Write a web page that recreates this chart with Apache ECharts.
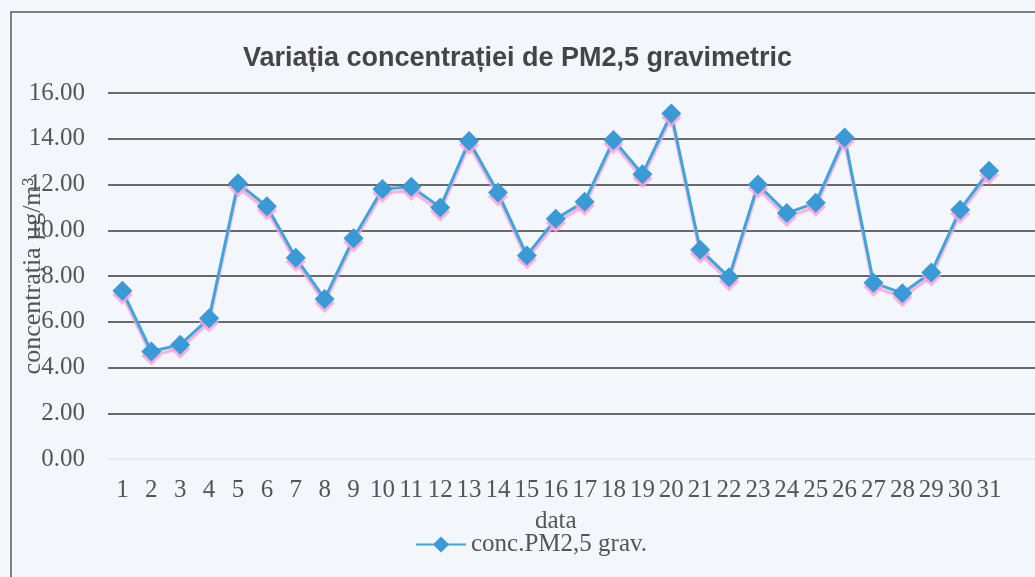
<!DOCTYPE html>
<html>
<head>
<meta charset="utf-8">
<script src="https://cdn.jsdelivr.net/npm/echarts@6/dist/echarts.min.js"></script>
<style>
html,body{margin:0;padding:0;background:#f3f6fb;}
#c{width:1035px;height:577px;}
</style>
</head>
<body>
<div id="c"></div>
<script>
const categories = ['1','2','3','4','5','6','7','8','9','10','11','12','13','14','15','16','17','18','19','20','21','22','23','24','25','26','27','28','29','30','31'];
const pm25Values = [7.35,4.7,5.0,6.15,12.05,11.05,8.8,7.0,9.65,11.8,11.9,11.0,13.9,11.65,8.9,10.5,11.25,13.95,12.45,15.1,9.15,7.95,12.0,10.75,11.2,14.05,7.7,7.25,8.15,10.9,12.6];
const seriesName = 'conc.PM2,5 grav.';
const titleText = 'Variația concentrației de PM2,5 gravimetric';
const yAxisName = 'concentrația µg/m³';
const xAxisName = 'data';

const serif = 'Liberation Serif';
const txt = '#555';
const chart = echarts.init(document.getElementById('c'));
chart.setOption({
  backgroundColor: '#f3f6fb',
  animation: false,
  title: {
    text: titleText, left: 'center', top: 40,
    textStyle: {fontFamily: 'Liberation Sans', fontWeight: 'bold', fontSize: 27, color: '#454545'}
  },
  legend: {
    left: 410, top: 527, itemWidth: 50, itemHeight: 20, itemGap: 5,
    textStyle: {fontFamily: serif, fontSize: 25, color: txt},
    data: [seriesName]
  },
  graphic: [{
    type: 'rect', shape: {x: 11, y: 12, width: 1040, height: 600},
    style: {fill: 'none', stroke: '#5a5a5a', lineWidth: 1.5}, silent: true
  }],
  grid: [
    {left: 108, right: 31.5, top: 93, bottom: 118, outerBoundsMode: 'none', containLabel: false},
    {left: 108, right: 0, top: 93, bottom: 118, outerBoundsMode: 'none', containLabel: false}
  ],
  xAxis: [
    {
      type: 'category', data: categories, gridIndex: 0, boundaryGap: true,
      axisLine: {show: false}, axisTick: {show: false},
      axisLabel: {fontFamily: serif, fontSize: 25, color: txt, margin: 19, interval: 0},
      name: xAxisName, nameLocation: 'middle', nameGap: 50, nameMoveOverlap: false,
      nameTextStyle: {fontFamily: serif, fontSize: 25, color: txt}
    },
    {type: 'category', data: categories, gridIndex: 1, show: false}
  ],
  yAxis: [
    {
      type: 'value', gridIndex: 0, min: 0, max: 16, interval: 2,
      axisLine: {show: false}, axisTick: {show: false}, splitLine: {show: false},
      axisLabel: {fontFamily: serif, fontSize: 25, color: txt, margin: 23, formatter: v => v.toFixed(2)},
      name: yAxisName, nameLocation: 'middle', nameGap: 62, nameRotate: 90, nameMoveOverlap: false,
      nameTextStyle: {fontFamily: serif, fontSize: 26, color: txt}
    },
    {
      type: 'value', gridIndex: 1, min: 0, max: 16, interval: 2,
      axisLine: {show: false}, axisTick: {show: false}, axisLabel: {show: false},
      splitLine: {show: true, lineStyle: {width: 1.5, color: ['#e2e6ee','#3a3a3a','#3a3a3a','#3a3a3a','#3a3a3a','#3a3a3a','#3a3a3a','#3a3a3a','#3a3a3a']}}
    }
  ],
  series: [{
    name: seriesName, type: 'line', xAxisIndex: 0, yAxisIndex: 0,
    data: pm25Values,
    symbol: 'diamond', symbolSize: 20,
    lineStyle: {color: '#3ea5dd', width: 3, shadowColor: 'rgba(250,160,215,0.85)', shadowOffsetY: 4, shadowBlur: 1},
    itemStyle: {color: '#3a9ad6', shadowColor: 'rgba(250,160,215,0.85)', shadowOffsetY: 4, shadowBlur: 1}
  }]
});
</script>
</body>
</html>
